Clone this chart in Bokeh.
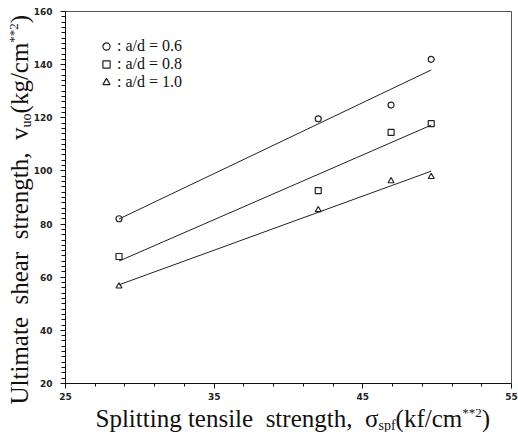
import math
import numpy as np
from bokeh.plotting import figure
from bokeh.models import Label, Legend, LegendItem, Range1d, FixedTicker, LinearAxis
from bokeh.embed import file_html
from bokeh.resources import INLINE

# ---- data ----
x_strength = [28.6, 42.0, 46.9, 49.6]
v_ad06 = [82.0, 119.6, 124.8, 142.0]
v_ad08 = [67.8, 92.6, 114.5, 117.8]
v_ad10 = [56.6, 85.3, 96.2, 97.8]
series_labels = [": a/d = 0.6", ": a/d = 0.8", ": a/d = 1.0"]
x_ticks = [25, 35, 45, 55]
y_ticks = [20, 40, 60, 80, 100, 120, 140, 160]
x_limits = (25, 55)
y_limits = (20, 160)

# ---- layout (pixels) ----
W, H = 518, 432
BOX_L, BOX_R, BOX_T, BOX_B = 65, 511, 11, 383
px_x = (BOX_R - BOX_L) / (x_limits[1] - x_limits[0])
px_y = (BOX_B - BOX_T) / (y_limits[1] - y_limits[0])
X_LO = x_limits[0] - BOX_L / px_x
X_HI = X_LO + W / px_x
Y_HI = y_limits[1] + BOX_T / px_y
Y_LO = Y_HI - H / px_y

p = figure(width=W, height=H, output_backend="svg", toolbar_location=None,
           x_range=Range1d(X_LO, X_HI), y_range=Range1d(Y_LO, Y_HI),
           x_axis_location=None, y_axis_location=None, min_border=0)
p.grid.visible = False
p.outline_line_color = None
p.background_fill_color = "white"
p.border_fill_color = "white"

def style_axis(ax):
    ax.axis_line_color = "#111"
    ax.axis_line_width = 1
    ax.major_tick_line_color = "#111"
    ax.minor_tick_line_color = "#111"
    ax.major_tick_in = 0
    ax.minor_tick_in = 0
    ax.major_label_text_font = "DejaVu Sans"
    ax.major_label_text_font_size = "9px"
    ax.major_label_text_font_style = "bold"
    ax.major_label_text_color = "#222"

yaxis = LinearAxis(fixed_location=x_limits[0], bounds=y_limits,
                   ticker=FixedTicker(ticks=y_ticks, minor_ticks=list(range(20, 161, 2))))
style_axis(yaxis)
yaxis.major_tick_out = 5
yaxis.minor_tick_out = 4
yaxis.major_label_standoff = 8
p.add_layout(yaxis, "left")

xaxis = LinearAxis(fixed_location=y_limits[0], bounds=x_limits,
                   ticker=FixedTicker(ticks=x_ticks, minor_ticks=list(range(25, 56, 2))))
style_axis(xaxis)
xaxis.major_tick_out = 5
xaxis.minor_tick_out = 3
xaxis.major_label_standoff = 4
p.add_layout(xaxis, "below")

for loc, fixed, bnds in (("above", y_limits[1], x_limits), ("right", x_limits[1], y_limits)):
    ax = LinearAxis(fixed_location=fixed, bounds=bnds, ticker=FixedTicker(ticks=[]))
    ax.axis_line_color = "#555"
    ax.axis_line_width = 1
    ax.major_label_text_color = None
    p.add_layout(ax, loc)

series = [v_ad06, v_ad08, v_ad10]
markers = ["circle", "square", "triangle"]
renderers = []
for ys, mk in zip(series, markers):
    slope, icpt = np.polyfit(x_strength, ys, 1)
    xs = np.array([min(x_strength), max(x_strength)])
    p.line(xs, slope * xs + icpt, line_color="#222", line_width=1)
    r = p.scatter(x_strength, ys, marker=mk, size=6, fill_color=None,
                  line_color="#222", line_width=1.2)
    renderers.append(r)

legend = Legend(items=[LegendItem(label=lab, renderers=[r]) for lab, r in zip(series_labels, renderers)],
                location=(97, 341), orientation="vertical",
                glyph_width=18, glyph_height=18, label_height=18, spacing=0,
                padding=0, margin=0, label_standoff=2,
                border_line_color=None, background_fill_alpha=0,
                label_text_font="Liberation Serif", label_text_font_size="16px",
                label_text_color="#111")
p.add_layout(legend)

NB = "\u00a0"
TW = {'S': 556, 'p': 500, 'l': 278, 'i': 278, 't': 278, 'n': 500, 'g': 500, ' ': 250,
      NB: 250, 'e': 444, 's': 389, 'r': 333, 'h': 500, ',': 250, 'σ': 540, 'f': 333,
      '(': 333, 'k': 500, '/': 278, 'c': 444, 'm': 778, '*': 500, '2': 500, ')': 333,
      'U': 722, 'a': 444, 'v': 500, 'u': 500, 'o': 500}

def tw(s, size):
    return sum(TW.get(c, 500) for c in s) * size / 1000.0

def add_title(pieces, base, start, rotated):
    # base: baseline offset (px from canvas left for rotated, from canvas bottom otherwise)
    # start: text start (px from canvas bottom for rotated, from canvas left otherwise)
    pos = 0.0
    for text, size, shift in pieces:
        adj = shift + 0.3 * size
        if rotated:
            lx, ly, ang = base - adj, start + pos, math.pi / 2
        else:
            lx, ly, ang = start + pos, base + adj, 0
        p.add_layout(Label(x=lx, y=ly, x_units="screen", y_units="screen", text=text,
                           angle=ang, text_font="Liberation Serif",
                           text_font_size=f"{size}px", text_align="left",
                           text_baseline="alphabetic", text_color="#111"))
        pos += tw(text, size)

add_title([("Splitting tensile" + NB + " strength," + NB + " σ", 25, 0), ("spf", 14, -4),
           ("(kf/cm", 25, 0), ("**2", 13, 9), (")", 25, 0)], H - 425, 95, False)
add_title([("Ultimate" + NB + " shear" + NB + " strength," + NB + " v", 25, 0), ("uo", 14, -4),
           ("(kg/cm", 25, 0), ("**2", 13, 9), (")", 25, 0)], 26, H - 404, True)

open("out.html", "w").write(file_html(p, INLINE))
